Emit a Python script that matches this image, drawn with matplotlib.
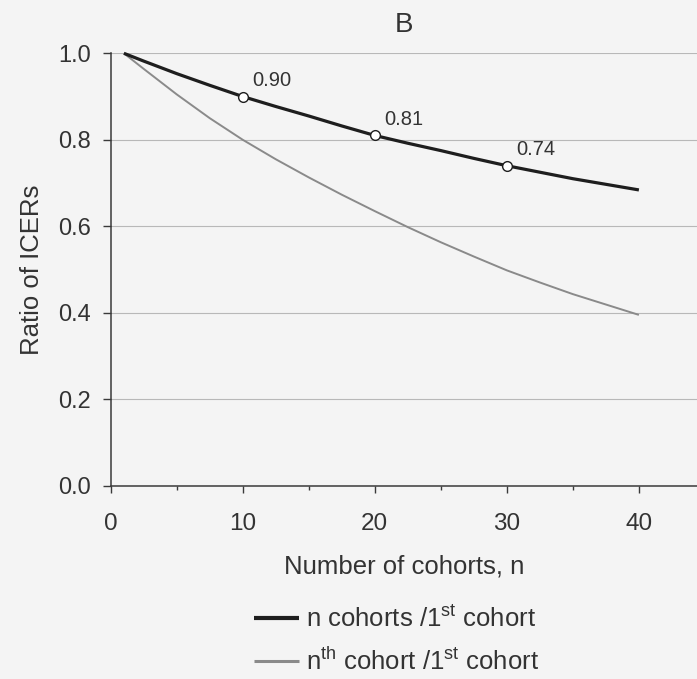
import matplotlib
matplotlib.use("Agg")
import matplotlib.pyplot as plt
from matplotlib.ticker import MultipleLocator, FixedLocator

plt.rcParams['font.family'] = ['Liberation Sans', 'DejaVu Sans']
plt.rcParams['mathtext.fontset'] = 'custom'
plt.rcParams['mathtext.rm'] = 'Liberation Sans'
plt.rcParams['mathtext.it'] = 'Liberation Sans:italic'

# Number of cohorts
cohorts = [1, 2.5, 5, 7.5, 10, 12.5, 15, 17.5, 20, 22.5, 25, 27.5, 30, 32.5, 35, 37.5, 40]
# ICER of n cohorts relative to the 1st cohort
ratio_cumulative = [1.0, 0.982, 0.953, 0.926, 0.90, 0.877, 0.855, 0.832, 0.81,
                    0.792, 0.775, 0.757, 0.74, 0.725, 0.71, 0.697, 0.684]
# ICER of the nth cohort relative to the 1st cohort
ratio_nth = [1.0, 0.964, 0.905, 0.85, 0.80, 0.755, 0.713, 0.673, 0.635,
             0.598, 0.563, 0.53, 0.498, 0.47, 0.443, 0.419, 0.395]

marked_n = [10, 20, 30]
marked_ratio = [0.90, 0.81, 0.74]
marked_labels = ["0.90", "0.81", "0.74"]

legend_labels = [r"n cohorts /1$^{\mathrm{st}}$ cohort",
                 r"n$^{\mathrm{th}}$ cohort /1$^{\mathrm{st}}$ cohort"]

bg = "#f4f4f4"
fig = plt.figure(figsize=(6.97, 6.79), dpi=100, facecolor=bg)
ax = fig.add_axes([0.1588, 0.2847, 0.8412, 0.6368], facecolor=bg)

ax.set_xlim(0, 44.4)
ax.set_ylim(0, 1.0)

ax.yaxis.set_major_locator(MultipleLocator(0.2))
ax.xaxis.set_major_locator(FixedLocator([0, 10, 20, 30, 40]))
ax.xaxis.set_minor_locator(FixedLocator([5, 15, 25, 35]))
ax.grid(axis='y', color='#b8b8b8', linewidth=0.8)
ax.set_axisbelow(True)

for side in ('top', 'right'):
    ax.spines[side].set_visible(False)
for side in ('left', 'bottom'):
    ax.spines[side].set_color('#3a3a3a')
    ax.spines[side].set_linewidth(1.1)

ax.tick_params(axis='y', which='major', length=6, width=1.0, color='#3a3a3a',
               labelsize=17, pad=8, labelcolor='#333333')
ax.tick_params(axis='x', which='major', length=5, width=1.0, color='#3a3a3a',
               labelsize=17.5, pad=15, labelcolor='#333333')
ax.tick_params(axis='x', which='minor', length=3, width=1.0, color='#3a3a3a')
ax.set_yticklabels([f"{v:.1f}" for v in ax.get_yticks()])

l1, = ax.plot(cohorts, ratio_cumulative, color='#1e1e1e', linewidth=2.3,
              solid_capstyle='butt', clip_on=False, zorder=3)
l2, = ax.plot(cohorts, ratio_nth, color='#8a8a8a', linewidth=1.4,
              solid_capstyle='butt', clip_on=False, zorder=2)
ax.plot(marked_n, marked_ratio, linestyle='none', marker='o', markersize=7,
        markerfacecolor='white', markeredgecolor='#1e1e1e', markeredgewidth=1.0,
        zorder=4, clip_on=False)
for x, y, txt in zip(marked_n, marked_ratio, marked_labels):
    ax.annotate(txt, (x, y), xytext=(7, 5), textcoords='offset points',
                ha='left', va='bottom', fontsize=14.5, color='#333333')

ax.set_title('B', fontsize=20, pad=15, color='#333333')
ax.set_xlabel('Number of cohorts, n', fontsize=18.5, labelpad=14, color='#333333')
ax.set_ylabel('Ratio of ICERs', fontsize=18.5, labelpad=10, color='#333333')

leg = fig.legend([l1, l2], legend_labels, loc='center', bbox_to_anchor=(0.569, 0.057),
                 frameon=False, fontsize=18.5, handlelength=1.75, handletextpad=0.3,
                 labelspacing=0.6, labelcolor='#333333')
leg.get_lines()[0].set_linewidth(3.0)
leg.get_lines()[1].set_linewidth(2.2)

fig.savefig('out.png', dpi=100, facecolor=bg)
